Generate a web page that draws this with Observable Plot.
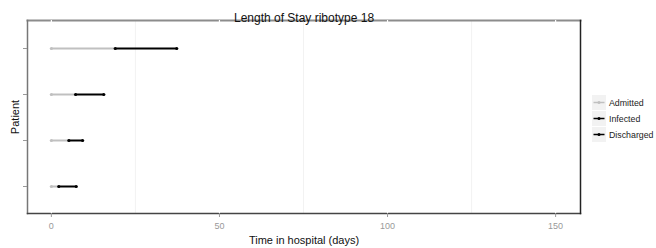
<!DOCTYPE html>
<html>
<head>
<meta charset="utf-8">
<script src="https://cdn.jsdelivr.net/npm/d3@7"></script>
<script src="https://cdn.jsdelivr.net/npm/@observablehq/plot@0.6"></script>
<style>
  body { margin: 0; background: #fff; font-family: "Liberation Sans", Arial, sans-serif; }
  #wrap { position: relative; width: 656px; height: 248px; }
  #legend { position: absolute; left: 592px; top: 95px; }
</style>
</head>
<body>
<div id="wrap"><div id="chart"></div><div id="legend"></div></div>
<script>
const patients = ["P1", "P2", "P3", "P4"];
const admitted = [0, 0, 0, 0];
const infected = [19.0, 7.2, 5.2, 2.2];
const discharged = [37.3, 15.6, 9.3, 7.4];
const xTicks = [0, 50, 100, 150];
const minorTicks = [25, 75, 125];
const legendLabels = ["Admitted", "Infected", "Discharged"];
const legendColors = ["#c0c0c0", "#000000", "#000000"];
const title = "Length of Stay ribotype 18";

const rows = patients.map((p, i) => ({
  patient: p, admitted: admitted[i], infected: infected[i], discharged: discharged[i]
}));

const xDomain = [-7.1, 157.4];

const chart = Plot.plot({
  width: 656,
  height: 248,
  marginTop: 20,
  marginBottom: 35,
  marginLeft: 27,
  marginRight: 76,
  style: { fontFamily: "Liberation Sans, Arial, sans-serif", background: "#fff", overflow: "visible" },
  x: { domain: xDomain },
  y: { type: "point", domain: patients, padding: 0.59 },
  marks: [
    Plot.ruleX(minorTicks, { stroke: "#f2f2f2", strokeWidth: 1 }),
    Plot.frame({ anchor: "top", stroke: "#8c8c8c", strokeWidth: 2 }),
    Plot.frame({ anchor: "left", stroke: "#777", strokeWidth: 1.5 }),
    Plot.frame({ anchor: "bottom", stroke: "#444", strokeWidth: 1.5 }),
    Plot.frame({ anchor: "right", stroke: "#222", strokeWidth: 1.5 }),
    Plot.ruleX(xTicks, { stroke: "#fff", strokeWidth: 1.2 }),
    Plot.link(rows, { x1: "admitted", x2: "infected", y1: "patient", y2: "patient", stroke: "#c0c0c0", strokeWidth: 2 }),
    Plot.link(rows, { x1: "infected", x2: "discharged", y1: "patient", y2: "patient", stroke: "#000", strokeWidth: 2 }),
    Plot.dot(rows, { x: "admitted", y: "patient", r: 1.6, fill: "#c0c0c0" }),
    Plot.dot(rows, { x: "infected", y: "patient", r: 1.6, fill: "#000" }),
    Plot.dot(rows, { x: "discharged", y: "patient", r: 1.6, fill: "#000" }),
    Plot.axisX({
      ticks: xTicks, tickSize: 4, tickPadding: 5, stroke: "#999", color: "#999", fontSize: 9,
      label: "Time in hospital (days)", labelAnchor: "center", labelOffset: 30, labelArrow: "none"
    }),
    Plot.axisY({
      tickSize: 4, tickFormat: () => "", stroke: "#999",
      label: "Patient", labelAnchor: "center", labelOffset: 16, labelArrow: "none"
    }),
    Plot.text([title], { frameAnchor: "top", dy: -7.5, fontSize: 12, fill: "#111" })
  ]
});
// style axis labels
d3.select(chart).selectAll("[aria-label='x-axis label'] text, [aria-label='y-axis label'] text")
  .style("font-size", "11px").attr("fill", "#111");
document.getElementById("chart").appendChild(chart);

// legend
const lg = d3.select("#legend").append("svg").attr("width", 64).attr("height", 52);
legendLabels.forEach((lab, i) => {
  const g = lg.append("g").attr("transform", `translate(0,${i * 16})`);
  g.append("rect").attr("x", 0).attr("y", 0).attr("width", 14).attr("height", 15).attr("fill", "#f2f2f2");
  g.append("line").attr("x1", 1.5).attr("x2", 12.5).attr("y1", 7.5).attr("y2", 7.5)
    .attr("stroke", legendColors[i]).attr("stroke-width", 1.5);
  g.append("circle").attr("cx", 7).attr("cy", 7.5).attr("r", 1.5).attr("fill", legendColors[i]);
  g.append("text").attr("x", 17).attr("y", 8).attr("dy", "0.35em")
    .attr("font-size", 8.8).attr("fill", "#222").attr("font-family", "Liberation Sans, Arial, sans-serif").text(lab);
});
</script>
</body>
</html>
